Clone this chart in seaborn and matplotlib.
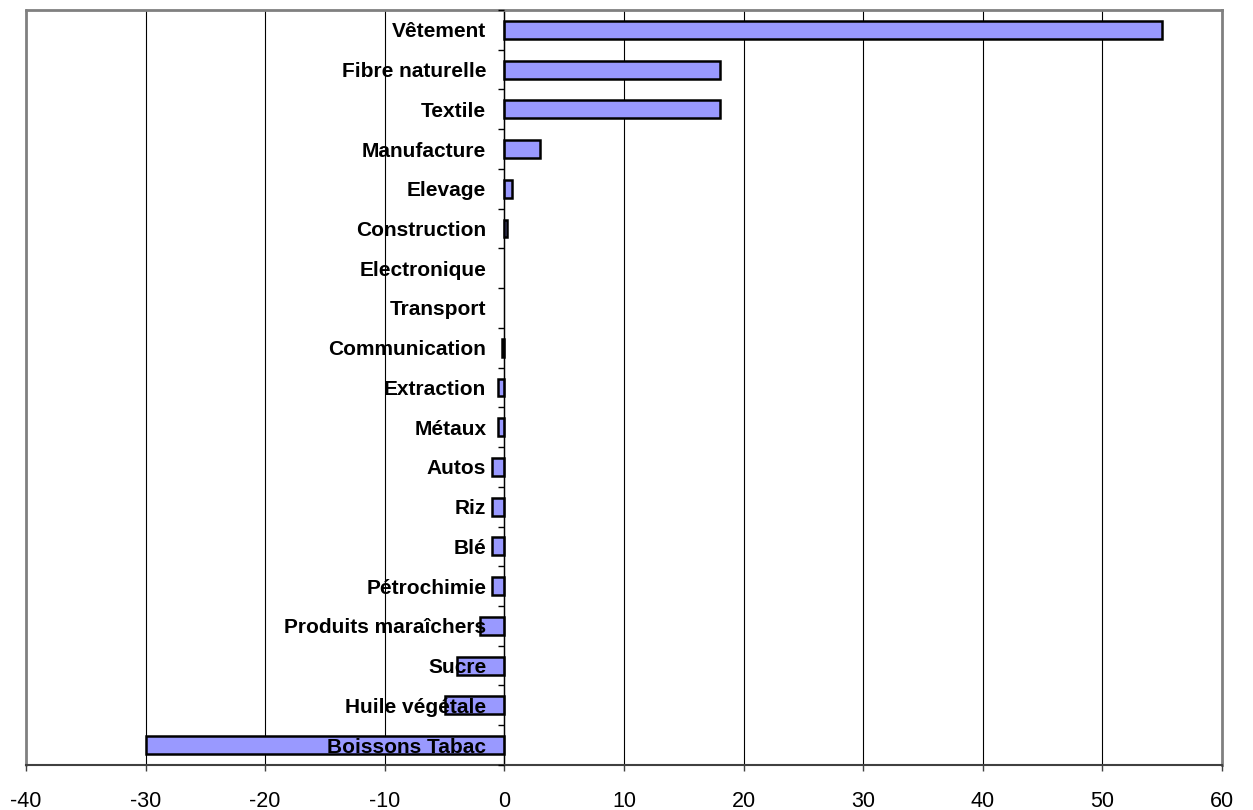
import numpy as np
import pandas as pd
import matplotlib
matplotlib.use("Agg")
import matplotlib.pyplot as plt
import seaborn as sns
from matplotlib.ticker import FixedLocator

# Sectors, top to bottom, and their values
secteurs = ["Vêtement", "Fibre naturelle", "Textile", "Manufacture", "Elevage",
            "Construction", "Electronique", "Transport", "Communication",
            "Extraction", "Métaux", "Autos", "Riz", "Blé", "Pétrochimie",
            "Produits maraîchers", "Sucre", "Huile végétale", "Boissons Tabac"]
variation = [55, 18, 18, 3, 0.6, 0.2, 0, 0, -0.2, -0.5, -0.5, -1, -1, -1, -1,
             -2, -4, -5, -30]
x_ticks = list(range(-40, 61, 10))

sns.set_style("white")
plt.rcParams["font.family"] = ["Liberation Sans", "DejaVu Sans"]
plt.rcParams["axes.unicode_minus"] = False
for key in ["text.color", "xtick.color", "ytick.color", "axes.labelcolor"]:
    plt.rcParams[key] = "black"
plt.rcParams["xtick.labelsize"] = 15.5
plt.rcParams["ytick.labelsize"] = 15

df = pd.DataFrame({"secteur": secteurs, "variation": variation})

fig, ax = plt.subplots(figsize=(12.53, 8.10), dpi=100)
fig.subplots_adjust(left=0.0207, right=0.9753, top=0.9877, bottom=0.0556)

sns.barplot(data=df, x="variation", y="secteur", orient="h", color="#9999FF",
            saturation=1, edgecolor="black", linewidth=1.8, width=0.45, ax=ax)

# no outline for empty bars
for p in ax.patches:
    if p.get_width() == 0:
        p.set_linewidth(0)

ax.set_xlim(x_ticks[0], x_ticks[-1])
ax.set_ylim(len(secteurs) - 0.5, -0.5)
ax.set_xticks(x_ticks)
ax.set_yticks(range(len(secteurs)), secteurs)

# grid under the bars, tick labels above them
ax.set_axisbelow(False)
ax.grid(False)
for x in x_ticks[1:-1]:
    ax.axvline(x, color="black", lw=0.8, zorder=0.5)
ax.axvline(x_ticks[0], color="#808080", lw=2, zorder=0.6, clip_on=False)

ax.spines["left"].set_position(("data", 0))
ax.spines["left"].set_color("black")
ax.spines["left"].set_linewidth(1)
for side in ["top", "right"]:
    ax.spines[side].set_color("#808080")
    ax.spines[side].set_linewidth(2)
ax.spines["bottom"].set_color("#404040")
ax.spines["bottom"].set_linewidth(1.5)

ax.yaxis.set_minor_locator(FixedLocator(np.arange(-0.5, len(secteurs), 1)))
ax.tick_params(axis="y", which="major", length=0, pad=13, left=True,
               labelsize=15, labelcolor="black")
ax.tick_params(axis="y", which="minor", length=4.5, width=1, color="black",
               direction="out", left=True)
ax.tick_params(axis="x", length=4.5, width=1, direction="out", bottom=True,
               pad=14, labelsize=15.5, color="#404040", labelcolor="black")
ax.set_xlabel("")
ax.set_ylabel("")
plt.setp(ax.get_yticklabels(), fontweight="bold", fontsize=15)

fig.savefig("out.png", dpi=100)
